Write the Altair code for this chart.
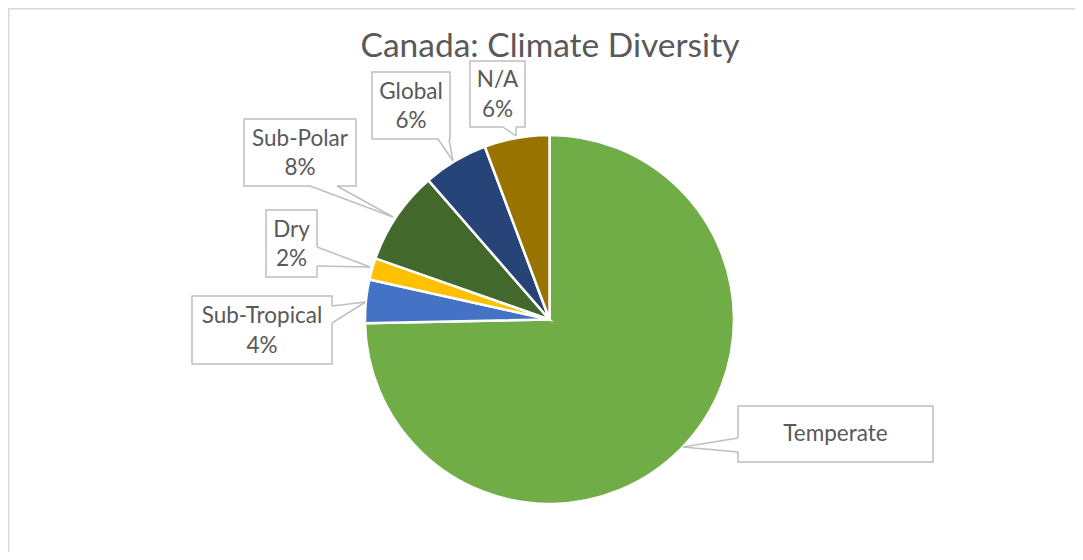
import altair as alt
import pandas as pd

# ---------------- data ----------------
categories = ["Temperate", "Sub-Tropical", "Dry", "Sub-Polar", "Global", "N/A"]
values = [118, 6, 3, 13, 9, 9]
show_percent = [False, True, True, True, True, True]
colors = ["#70AD47", "#4472C4", "#FFC000", "#43682B", "#264478", "#997300"]
title_text = "Canada: Climate Diversity"

# ---------------- layout (page pixels) ----------------
OFF = 8  # page margin
W, H = 1067, 544
pie_cx, pie_cy, pie_r = 549.5, 319.5, 184.5
LINE_H = 29.5

# callout boxes: x1, y1, x2, y2
box_x1 = [738, 192, 266, 244, 372, 470]
box_y1 = [406, 296, 210, 119, 72, 61]
box_x2 = [933, 332, 317, 356, 450, 525]
box_y2 = [462, 364, 277, 186, 139, 127]
# pointer base (two points on the box edge) and tip on the pie
base_ax = [738, 332, 317, 310, 438, 503]
base_ay = [438, 306, 247, 186, 139, 127]
base_bx = [738, 332, 317, 337, 449, 516]
base_by = [452, 323, 266, 186, 139, 127]
tip_x = [683, 365.5, 370, 393, 453, 516]
tip_y = [447, 302, 267, 217, 161, 136]

total = sum(values)
labels, text_y = [], []
for c, v, s, a, b in zip(categories, values, show_percent, box_y1, box_y2):
    if s:
        labels.append(f"{c}\n{round(v / total * 100)}%")
        text_y.append((a + b) / 2 - LINE_H / 2 - OFF + 1)
    else:
        labels.append(c)
        text_y.append((a + b) / 2 - OFF)

pie_df = pd.DataFrame({"category": categories, "value": values,
                       "idx": list(range(len(categories)))})

box_df = pd.DataFrame({
    "x1": [v - OFF for v in box_x1], "y1": [v - OFF for v in box_y1],
    "x2": [v - OFF for v in box_x2], "y2": [v - OFF for v in box_y2],
    "cx": [(a + b) / 2 - OFF for a, b in zip(box_x1, box_x2)],
    "ty": text_y,
    "label": labels,
})

base_df = pd.DataFrame({
    "x": [v - OFF for v in base_ax], "y": [v - OFF for v in base_ay],
    "x2": [v - OFF for v in base_bx], "y2": [v - OFF for v in base_by],
})
ptr_rows = []
for i in range(len(categories)):
    ptr_rows.append({"x": base_ax[i] - OFF, "y": base_ay[i] - OFF,
                     "x2": tip_x[i] - OFF, "y2": tip_y[i] - OFF})
    ptr_rows.append({"x": base_bx[i] - OFF, "y": base_by[i] - OFF,
                     "x2": tip_x[i] - OFF, "y2": tip_y[i] - OFF})
ptr_df = pd.DataFrame(ptr_rows)

border_df = pd.DataFrame({"x": [0.75, 0.0], "y": [0.0, 0.75],
                          "x2": [0.75, W], "y2": [H, 0.75]})

FONT = "Lato"
TXT = "#595959"
GRID = "#BFBFBF"

border = alt.Chart(border_df).mark_rule(color="#D9D9D9", strokeWidth=1.5).encode(
    x=alt.X("x:Q", scale=None), y=alt.Y("y:Q", scale=None),
    x2="x2:Q", y2="y2:Q")

pie = alt.Chart(pie_df).mark_arc(outerRadius=pie_r, stroke="white",
                                 strokeWidth=2.5).encode(
    theta=alt.Theta("value:Q", stack=True),
    color=alt.Color("category:N", scale=alt.Scale(domain=categories, range=colors),
                    legend=None),
    order=alt.Order("idx:Q"),
    x=alt.value(pie_cx - OFF), y=alt.value(pie_cy - OFF),
)

boxes = alt.Chart(box_df).mark_rect(fill="white", stroke=GRID, strokeWidth=1.5).encode(
    x=alt.X("x1:Q", scale=None), x2="x2:Q",
    y=alt.Y("y1:Q", scale=None), y2="y2:Q")

base_mask = alt.Chart(base_df).mark_rule(color="white", strokeWidth=2.5).encode(
    x=alt.X("x:Q", scale=None), y=alt.Y("y:Q", scale=None),
    x2="x2:Q", y2="y2:Q")

pointers = alt.Chart(ptr_df).mark_rule(color=GRID, strokeWidth=1.5).encode(
    x=alt.X("x:Q", scale=None), y=alt.Y("y:Q", scale=None),
    x2="x2:Q", y2="y2:Q")

label_text = alt.Chart(box_df).mark_text(
    font=FONT, fontSize=22.5, color=TXT, align="center", baseline="middle",
    lineBreak="\n", lineHeight=LINE_H).encode(
    x=alt.X("cx:Q", scale=None), y=alt.Y("ty:Q", scale=None), text="label:N")

title = alt.Chart(pd.DataFrame({"t": [title_text]})).mark_text(
    font=FONT, fontSize=33.5, color=TXT, align="center", baseline="alphabetic").encode(
    x=alt.value(550 - OFF), y=alt.value(57 - OFF), text="t:N")

chart = alt.layer(border, pie, boxes, base_mask, pointers, label_text, title).properties(
    width=W, height=H, padding=0, autosize=alt.AutoSizeParams(type="none"),
    background="white",
).configure_view(stroke=None)

chart.save("out.html", embed_options={"renderer": "svg", "actions": False})
